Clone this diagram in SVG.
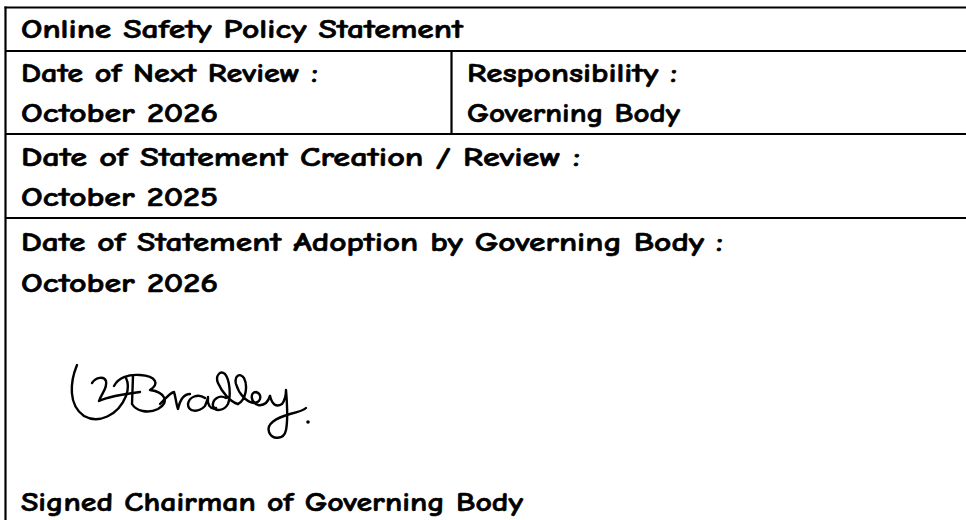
<svg xmlns="http://www.w3.org/2000/svg" width="966" height="520" viewBox="0 0 966 520">
<style>
.t{font-family:"Comic Sans MS","Comic Neue","Noto Sans","DejaVu Sans",sans-serif;font-weight:bold;font-size:26px;fill:#000;stroke:#000;stroke-width:0.6}
.ln{stroke:#000;stroke-width:2.2;fill:none}
.sig{stroke:#000;stroke-width:2.4;fill:none;stroke-linecap:round;stroke-linejoin:round}
</style>
<rect width="966" height="520" fill="#fff"/>
<g id="grid">
<line class="ln" x1="4.5" y1="7.5" x2="966" y2="7.5"/>
<line class="ln" x1="5.5" y1="6.5" x2="5.5" y2="520"/>
<line class="ln" x1="5" y1="51" x2="966" y2="51"/>
<line class="ln" x1="5" y1="134" x2="966" y2="134"/>
<line class="ln" x1="5" y1="218" x2="966" y2="218"/>
<line class="ln" x1="451.5" y1="51" x2="451.5" y2="134"/>
</g>
<g id="title">
<text class="t" x="21" y="38" textLength="442" lengthAdjust="spacingAndGlyphs">Online Safety Policy Statement</text>
</g>
<g id="next-review">
<text class="t" x="21" y="82" textLength="297" lengthAdjust="spacingAndGlyphs">Date of Next Review :</text>
<text class="t" x="21" y="122" textLength="197" lengthAdjust="spacingAndGlyphs">October 2026</text>
</g>
<g id="responsibility">
<text class="t" x="467" y="82" textLength="210" lengthAdjust="spacingAndGlyphs">Responsibility :</text>
<text class="t" x="467" y="122" textLength="213" lengthAdjust="spacingAndGlyphs">Governing Body</text>
</g>
<g id="creation">
<text class="t" x="21" y="166" textLength="559" lengthAdjust="spacingAndGlyphs">Date of Statement Creation / Review :</text>
<text class="t" x="21" y="206" textLength="197" lengthAdjust="spacingAndGlyphs">October 2025</text>
</g>
<g id="adoption">
<text class="t" x="21" y="251" textLength="702" lengthAdjust="spacingAndGlyphs">Date of Statement Adoption by Governing Body :</text>
<text class="t" x="21" y="292" textLength="197" lengthAdjust="spacingAndGlyphs">October 2026</text>
<g id="signature">
<path class="sig" d="M77 365 C70 382,68 405,84 416 C98 424,118 416,126 396 C129 388,128 382,126 378"/>
<path class="sig" d="M92 383 C96 377,104 376,106 381 C108 388,101 394,99 401 C110 396,124 394,140 392"/>
<path class="sig" d="M114 386 C118 378,128 374,140 375 C156 376,160 384,150 390 C165 392,170 402,158 409 C148 414,136 411,132 404 L133 376"/>
<path class="sig" d="M160 404 C166 398,170 393,174 392 C176 398,176 404,178 409 C180 400,184 394,190 394"/>
<path class="sig" d="M205 398 C198 393,189 397,188 404 C188 412,198 413,205 406 C207 401,208 398,208 397 C207 404,210 410,216 408"/>
<path class="sig" d="M226 398 C219 394,212 400,213 406 C215 412,224 411,228 404 C231 396,230 380,225 374 C220 370,215 376,218 383 C222 392,230 402,238 404"/>
<path class="sig" d="M238 404 C246 400,248 386,244 378 C240 372,234 376,236 384 C239 394,246 402,254 403 C262 402,262 394,256 392 C250 392,250 402,258 405 C264 406,268 402,270 396"/>
<path class="sig" d="M270 396 C272 404,276 408,282 404 C285 400,286 394,286 390 C287 402,288 420,286 430 C284 440,272 440,269 432 C266 424,276 418,290 414 C298 412,304 410,306 408"/>
<circle cx="308" cy="422" r="1.8" fill="#000"/>
</g>
<text class="t" x="21" y="511" textLength="502" lengthAdjust="spacingAndGlyphs">Signed Chairman of Governing Body</text>
</g>
</svg>
